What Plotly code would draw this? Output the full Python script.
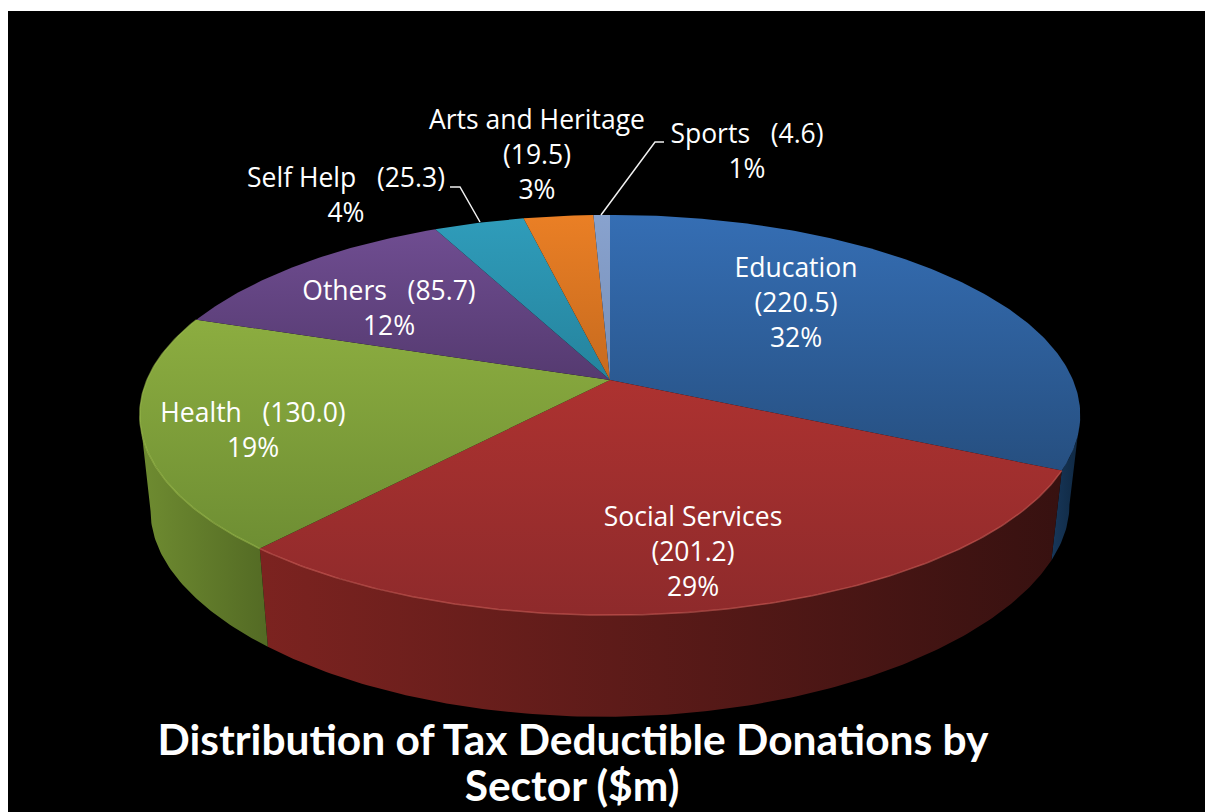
import numpy as np
import plotly.graph_objects as go

# Donations by sector, $m
sectors = ["Education", "Social Services", "Health", "Others", "Self Help", "Arts and Heritage", "Sports"]
amounts = [220.5, 201.2, 130.0, 85.7, 25.3, 19.5, 4.6]

# Top-face shading per sector (far colour, near colour)
top_colors = [
    ("#356eb4", "#264f80"),
    ("#ad3230", "#8e2a2b"),
    ("#8cad40", "#6e8e33"),
    ("#6f4d91", "#553a70"),
    ("#2f9cba", "#25839d"),
    ("#ea7f25", "#c66a1e"),
    ("#88a2ce", "#7890b8"),
]
# Side-wall shading for the sectors facing the viewer (left colour, right colour)
wall_colors = {
    0: ("#17375a", "#0f2740"),
    1: ("#7c2320", "#371110"),
    2: ("#6f8c31", "#536a24"),
}
rim_colors = {1: "#d0605a", 2: "#a0c050"}

# Screen placement of the perspective disc
CX, CY_TOP, CY_BOTTOM = 610.0, 380.0, 487.0
A, B, PERSPECTIVE = 463.0, 194.0, 0.175
BOTTOM_SCALE = 0.977
# Rim angles at which the side wall meets the silhouette
WALL_START, WALL_STOP = np.radians(100.0), np.radians(260.0)

total = sum(amounts)
edges = np.radians(np.concatenate([[0.0], np.cumsum(amounts)]) / total * 360.0)


def project(theta, cy, scale=1.0):
    """Project a point on the disc rim (clockwise from 12 o'clock) to the screen."""
    w = 1 + PERSPECTIVE * np.cos(theta)
    return CX + scale * A * np.sin(theta) / w, cy - scale * B * np.cos(theta) / w


def project_bottom(theta):
    """Lower rim: same projection with a slight lift toward the outer edges."""
    x, y = project(theta, CY_BOTTOM, BOTTOM_SCALE)
    u = (x - CX) / A
    return x, y - 13.3 * u ** 2 - 3.2 * u


def arc(start, stop):
    n = max(int(np.degrees(stop - start) * 1.5), 4)
    return np.linspace(start, stop, n)


fig = go.Figure()

# Side walls first, so the top faces cover their upper edge
for i, (left, right) in wall_colors.items():
    th = arc(max(edges[i], WALL_START), min(edges[i + 1], WALL_STOP))
    x1, y1 = project(th, CY_TOP)
    x2, y2 = project_bottom(th[::-1])
    xs = np.concatenate([x1, x2])
    ys = np.concatenate([y1, y2])
    fig.add_trace(go.Scatter(
        x=xs, y=ys, mode="lines", fill="toself", line=dict(width=0),
        fillgradient=dict(type="horizontal", start=float(xs.min()), stop=float(xs.max()),
                          colorscale=[[0, left], [1, right]]),
        hoverinfo="skip",
    ))

# Top faces
for i in range(len(amounts)):
    th = arc(edges[i], edges[i + 1])
    x1, y1 = project(th, CY_TOP)
    xs = np.concatenate([[CX], x1, [CX]])
    ys = np.concatenate([[CY_TOP], y1, [CY_TOP]])
    far, near = top_colors[i]
    fig.add_trace(go.Scatter(
        x=xs, y=ys, mode="lines", fill="toself", line=dict(width=0),
        fillgradient=dict(type="vertical", start=float(ys.min()), stop=float(ys.max()),
                          colorscale=[[0, far], [1, near]]),
        hoverinfo="skip",
    ))

# Bevel highlight along the front rim
for i, colour in rim_colors.items():
    x1, y1 = project(arc(edges[i], edges[i + 1]), CY_TOP)
    fig.add_trace(go.Scatter(x=x1, y=y1, mode="lines", opacity=0.6,
                             line=dict(color=colour, width=1.5), hoverinfo="skip"))

# Leader lines for the two labels placed away from their slices
leader_x = [[450, 460, 480], [664, 655, 601]]
leader_y = [[187, 187, 222], [142, 142, 215]]
for lx, ly in zip(leader_x, leader_y):
    fig.add_trace(go.Scatter(x=lx, y=ly, mode="lines",
                             line=dict(color="#f0f0f0", width=1.5), hoverinfo="skip"))

# Slice labels, one text element per line
pct = [f"{round(v / total * 100)}%" for v in amounts]
amt = [f"({v:.1f})" for v in amounts]
GAP = "\u00a0\u00a0\u00a0"
label_lines = [
    ([sectors[0], amt[0], pct[0]], 796, [270, 305, 340]),
    ([sectors[1], amt[1], pct[1]], 693, [519, 554, 589]),
    ([sectors[2] + GAP + amt[2], pct[2]], 253, [415, 450]),
    ([sectors[3] + GAP + amt[3], pct[3]], 389, [293, 328]),
    ([sectors[4] + GAP + amt[4], pct[4]], 346, [180, 215]),
    ([sectors[5], amt[5], pct[5]], 537, [122, 157, 192]),
    ([sectors[6] + GAP + amt[6], pct[6]], 747, [136, 171]),
]
for lines, lx, lys in label_lines:
    fig.add_trace(go.Scatter(
        x=[lx] * len(lines), y=lys, text=lines, mode="text",
        textposition="middle center",
        textfont=dict(family="Open Sans", size=26.5, color="white"), hoverinfo="skip",
    ))

# Title
title_lines = ["Distribution of Tax Deductible Donations by", "Sector ($m)"]
fig.add_trace(go.Scatter(
    x=[573, 572], y=[744, 790], text=[f"<b>{t}</b>" for t in title_lines],
    mode="text", textposition="middle center",
    textfont=dict(family="Lato", size=42.5, color="white"), hoverinfo="skip",
))

hidden = dict(visible=False, showgrid=False, zeroline=False)
fig.update_layout(
    width=1205, height=812, showlegend=False,
    margin=dict(l=8, r=0, t=11, b=0),
    paper_bgcolor="white", plot_bgcolor="black",
    xaxis=dict(range=[8, 1205], **hidden),
    yaxis=dict(range=[812, 11], **hidden),
)
fig.write_html("out.html", config=dict(displayModeBar=False))
